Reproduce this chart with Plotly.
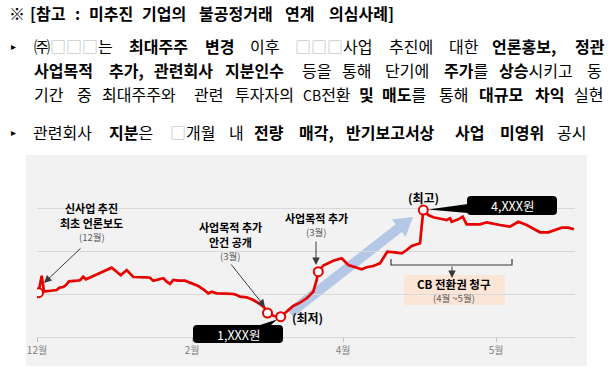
import plotly.graph_objects as go

# ---- data (x: time index, y: share price level) ----
t = [0.75, 2.35, 3.5, 6.5, 9.85, 11.15, 13.15, 14.5, 16, 19.85, 21.5, 23.15, 24.5, 27.35,
     29.85, 32.35, 34.85, 37.35, 39.85, 41.85, 44.85, 46.5, 48.15, 54.85, 56.5, 58.15,
     60.65, 63.15, 64.85, 66.5, 68.15, 70.65, 74, 77.35, 80.65, 83.15, 85.65, 87.35,
     89.85, 94.85, 98.15, 99.85, 101.5, 104.85, 108.15, 111.5, 114, 115.25, 118.5,
     121.85, 124.85, 128.15, 131.5, 134.85, 138.15, 139.85, 140.65, 143.15, 148.15,
     152.35, 155.65, 159, 162.35, 164.85, 168.15, 171.5, 175.15, 179, 182.35, 184.85,
     187.35, 191.5, 193.15, 195.65, 198.15, 202.35, 204.85, 206.5, 207.35, 210.65,
     212.85, 214.85, 221.5, 224.85, 228.15, 231.5, 236.5, 240.65, 244.85, 248.15,
     251.5, 255.65, 259, 262.35, 265.65, 268.5]
price = [2030, 2426, 2058, 2077, 2093, 2147, 2163, 2209, 2295, 2309, 2319, 2402, 2342, 2402,
         2458, 2519, 2558, 2612, 2519, 2435, 2558, 2481, 2395, 2388, 2379, 2309, 2342, 2365,
         2286, 2233, 2326, 2309, 2309, 2249, 2186, 2109, 2016, 2053, 2016, 2007, 2000, 1977,
         1937, 1923, 1860, 1767, 1667, 1558, 1488, 1472, 1588, 1721, 1798, 1900, 2053, 2326,
         2519, 2663, 2774, 2830, 2674, 2621, 2574, 2621, 2651, 2714, 2984, 2970, 2947, 3023,
         3116, 3179, 3953, 3837, 3784, 3744, 3721, 3760, 3681, 3737, 3798, 3621, 3621, 3667,
         3644, 3605, 3565, 3681, 3605, 3528, 3435, 3435, 3488, 3542, 3542, 3505]
event_idx = [0, 47, 49, 56, 72]
tick_pos = [0, 77.5, 153, 229.5]
tick_text = ["12월", "2월", "4월", "5월"]
grid_vals = [1000, 2000, 3000, 4000, 5000]

FONT = "Noto Sans CJK KR"
RED = "rgb(232,0,0)"
SQ = '<span style="color:#b8b8b8">{}</span>'


def PX(px):
    return (px - 37) / 538.0


def PY(py):
    return (337 - py) / 172.0


fig = go.Figure()
fig.add_trace(go.Scatter(x=t, y=price, mode="lines", line=dict(color=RED, width=2.7),
                         hoverinfo="skip", showlegend=False))
fig.add_trace(go.Scatter(x=[t[i] for i in event_idx], y=[price[i] for i in event_idx],
                         mode="markers",
                         marker=dict(size=9, color="white", line=dict(color=RED, width=2)),
                         hoverinfo="skip", showlegend=False))

ann = []
shapes = []

# ---- header text (word-positioned to mimic justified lines) ----
header = [
    (13, 16, [(7, "※"), (28, "<b>[참고</b>"), (73, "<b>:</b>"), (87, "<b>미추진</b>"),
              (140, "<b>기업의</b>"), (197, "<b>불공정거래</b>"), (283, "<b>연계</b>"),
              (327, "<b>의심사례]</b>")]),
    (46, 16, [(32, "㈜" + SQ.format("□□□") + "는"), (127, "<b>최대주주</b>"), (203, "<b>변경</b>"),
              (248, "이후"), (293, SQ.format("□□□") + "사업"), (387, "추진에"), (447, "대한"),
              (490, "<b>언론홍보,</b>"), (573, "<b>정관</b>")]),
    (70, 16, [(32, "<b>사업목적</b>"), (107, "<b>추가,</b>"), (152, "<b>관련회사</b>"),
              (223, "<b>지분인수</b>"), (300, "등을"), (340, "통해"), (383, "단기에"),
              (442, "<b>주가</b>를"), (497, "<b>상승</b>시키고"), (585, "동")]),
    (94, 16, [(32, "기간"), (75, "중"), (100, "최대주주와"), (192, "관련"), (233, "투자자의"),
              (301, '<span style="font-size:14px">CB</span>전환'), (357, "<b>및</b>"),
              (380, "<b>매도</b>를"), (437, "통해"),
              (477, "<b>대규모</b>"), (533, "<b>차익</b>"), (572, "실현")]),
    (132, 16, [(31, "관련회사"), (107, "<b>지분</b>은"), (168, SQ.format("□") + "개월"), (227, "내"),
               (252, "<b>전량</b>"), (297, "<b>매각,</b>"), (344, "<b>반기보고서상</b>"),
               (453, "<b>사업</b>"), (498, "<b>미영위</b>"), (555, "공시")]),
]
for yy, fs, words in header:
    for xx, txt in words:
        ann.append(dict(x=PX(xx), y=PY(yy), xref="paper", yref="paper", text=txt,
                        showarrow=False, xanchor="left", yanchor="middle",
                        font=dict(family=FONT, size=fs, color="black")))
for yy in (46, 132):
    ann.append(dict(x=PX(9), y=PY(yy), xref="paper", yref="paper", text="▸",
                    showarrow=False, xanchor="left", yanchor="middle",
                    font=dict(family="DejaVu Sans", size=10, color="black")))


# ---- chart labels ----
def label(cx, cy, txt, size=11, color="black", bold=True):
    ann.append(dict(x=PX(cx), y=PY(cy), xref="paper", yref="paper",
                    text=("<b>%s</b>" % txt) if bold else txt, showarrow=False,
                    xanchor="center", yanchor="middle", borderpad=0,
                    font=dict(family=FONT, size=size, color=color)))


label(91, 208, "신사업 추진")
label(91, 223, "최초 언론보도")
label(92, 237, "(12월)", 9.5, "#595959", False)
label(230, 227, "사업목적 추가")
label(230, 242, "안건 공개")
label(230, 255.5, "(3월)", 9.5, "#595959", False)
label(316, 218, "사업목적 추가")
label(316, 232, "(3월)", 9.5, "#595959", False)
label(307, 317, "(최저)", 12)
label(423, 197, "(최고)", 12)
label(454, 283.5, "CB 전환권 청구", 11.5)
label(454, 297.5, "(4월 ~5월)", 9.5, "#595959", False)


def arrow(tx, ty, hx, hy):
    ann.append(dict(x=PX(hx), y=PY(hy), xref="paper", yref="paper", text="",
                    showarrow=True, ax=tx - hx, ay=ty - hy, arrowhead=2, arrowsize=1.5,
                    arrowwidth=1, arrowcolor="#3a3a3a"))


arrow(82, 247, 44, 283)
arrow(230, 263, 265, 307)
arrow(316, 240, 316, 265)
arrow(452, 265, 452, 278)


def poly(pts):
    return "M " + " L ".join("%.5f,%.5f" % (PX(a), PY(b)) for a, b in pts) + " Z"


def rrect(x0, y0, x1, y1, r):
    P = lambda a, b: "%.5f,%.5f" % (PX(a), PY(b))
    return ("M " + P(x0 + r, y0) + " L " + P(x1 - r, y0) + " Q " + P(x1, y0) + " " + P(x1, y0 + r) +
            " L " + P(x1, y1 - r) + " Q " + P(x1, y1) + " " + P(x1 - r, y1) +
            " L " + P(x0 + r, y1) + " Q " + P(x0, y1) + " " + P(x0, y1 - r) +
            " L " + P(x0, y0 + r) + " Q " + P(x0, y0) + " " + P(x0 + r, y0) + " Z")


# gray panel
shapes.append(dict(type="rect", xref="paper", yref="paper", x0=PX(26), x1=PX(587),
                   y0=PY(366), y1=PY(155), fillcolor="#F2F2F2", line=dict(width=0), layer="below"))
# big blue trend arrow
shapes.append(dict(type="path", xref="paper", yref="paper", layer="between",
                   path=poly([(293.1, 316.9), (401.9, 232.0), (405.6, 236.8), (413, 217),
                              (392.0, 219.4), (395.7, 224.2), (286.9, 309.1)]),
                   fillcolor="rgba(165,188,228,0.8)", line=dict(width=0)))
# bracket for CB period
shapes.append(dict(type="path", xref="paper", yref="paper",
                   path="M %.5f,%.5f L %.5f,%.5f L %.5f,%.5f L %.5f,%.5f" % (
                       PX(391), PY(259), PX(391), PY(265), PX(512), PY(265), PX(512), PY(259)),
                   line=dict(color="#3a3a3a", width=1.2)))
# CB box
shapes.append(dict(type="rect", xref="paper", yref="paper", x0=PX(404), x1=PX(505),
                   y0=PY(305), y1=PY(275), fillcolor="#FBE5D6", line=dict(width=0), layer="below"))
# price callouts
shapes.append(dict(type="path", xref="paper", yref="paper", path=rrect(193, 325, 283, 343, 4),
                   fillcolor="black", line=dict(width=0)))
shapes.append(dict(type="path", xref="paper", yref="paper",
                   path=poly([(257, 326), (270, 326), (277, 319.5)]),
                   fillcolor="black", line=dict(width=0)))
shapes.append(dict(type="path", xref="paper", yref="paper", path=rrect(467, 196, 557, 215, 4),
                   fillcolor="black", line=dict(width=0)))
shapes.append(dict(type="path", xref="paper", yref="paper",
                   path=poly([(428, 209.5), (468, 204), (468, 213)]),
                   fillcolor="black", line=dict(width=0)))
label(238, 334, "1,XXX원", 12.5, "white", False)
label(512, 205.5, "4,XXX원", 12.5, "white", False)

fig.update_layout(
    width=612, height=371,
    margin=dict(l=37, r=37, t=165, b=34),
    paper_bgcolor="white", plot_bgcolor="rgba(0,0,0,0)",
    showlegend=False,
    annotations=ann, shapes=shapes,
    xaxis=dict(range=[0, 269], tickvals=tick_pos, ticktext=tick_text, showgrid=False,
               zeroline=False, showline=True, linecolor="#D9D9D9", linewidth=1,
               ticks="outside", ticklen=4, tickcolor="#BFBFBF",
               tickfont=dict(family=FONT, size=10, color="#7F7F7F"), fixedrange=True),
    yaxis=dict(range=[1000, 5000], tickvals=grid_vals, showticklabels=False, showgrid=True,
               gridcolor="#D9D9D9", gridwidth=1, zeroline=False, showline=False, ticks="",
               fixedrange=True),
)

fig.write_html("out.html", config={"displayModeBar": False},
               post_script="document.body.style.margin='0';")
